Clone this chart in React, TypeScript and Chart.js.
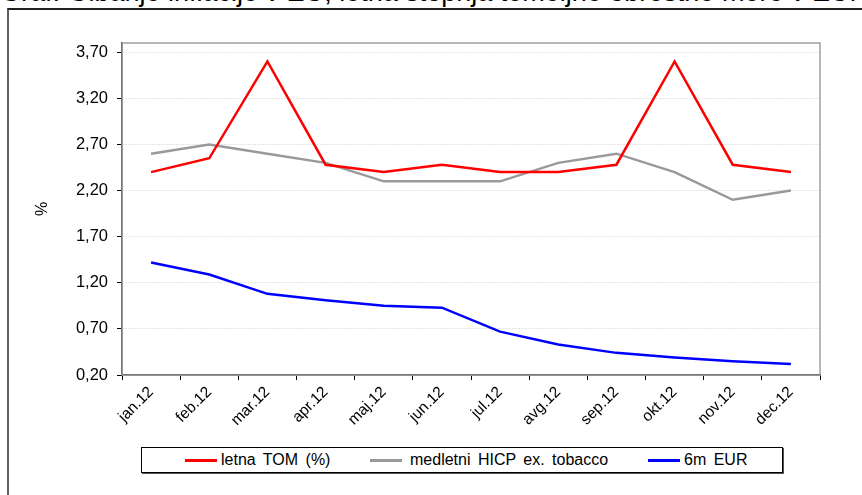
import React, { useEffect, useRef } from "react";
import { Chart, registerables } from "chart.js";

Chart.register(...registerables);

const months = ["jan.12", "feb.12", "mar.12", "apr.12", "maj.12", "jun.12", "jul.12", "avg.12", "sep.12", "okt.12", "nov.12", "dec.12"];
const letnaTom = [2.4, 2.55, 3.6, 2.48, 2.4, 2.48, 2.4, 2.4, 2.48, 3.6, 2.48, 2.4];
const hicpExTobacco = [2.6, 2.7, 2.6, 2.5, 2.3, 2.3, 2.3, 2.5, 2.6, 2.4, 2.1, 2.2];
const eur6m = [1.42, 1.29, 1.08, 1.01, 0.95, 0.93, 0.67, 0.53, 0.44, 0.39, 0.35, 0.32];
const yTicks = [0.2, 0.7, 1.2, 1.7, 2.2, 2.7, 3.2, 3.7];

const seriesNames = ["letna TOM (%)", "medletni HICP ex. tobacco", "6m EUR"];
const seriesColors = ["#ff0000", "#999999", "#0000ff"];

const FONT = "'Liberation Sans', Arial, sans-serif";

// grey frame around the plot area, drawn behind the axes
const plotFrame = {
  id: "plotFrame",
  beforeDatasetsDraw(chart: any) {
    const { ctx, chartArea } = chart;
    ctx.save();
    ctx.strokeStyle = "#a0a0a0";
    ctx.lineWidth = 1.5;
    ctx.strokeRect(chartArea.left, chartArea.top, chartArea.right - chartArea.left, chartArea.bottom - chartArea.top);
    ctx.restore();
  },
};

export default function App() {
  const canvasRef = useRef<HTMLCanvasElement | null>(null);

  useEffect(() => {
    if (!canvasRef.current) return;
    const data = [letnaTom, hicpExTobacco, eur6m];
    const chart = new Chart(canvasRef.current, {
      type: "line",
      data: {
        labels: months,
        datasets: data.map((d, i) => ({
          label: seriesNames[i],
          data: d,
          borderColor: seriesColors[i],
          backgroundColor: seriesColors[i],
          borderWidth: 2.5,
          pointRadius: 0,
          tension: 0,
          fill: false,
        })),
      },
      options: {
        animation: false,
        responsive: false,
        maintainAspectRatio: false,
        layout: { padding: { top: 33, right: 40, left: 0, bottom: 0 } },
        plugins: { legend: { display: false }, tooltip: { enabled: false } },
        scales: {
          x: {
            type: "category",
            offset: true,
            grid: {
              offset: true,
              drawOnChartArea: false,
              drawTicks: true,
              tickLength: 5,
              color: "#000",
              tickColor: "#000",
            },
            border: { color: "#000", width: 1.5 },
            ticks: {
              autoSkip: false,
              maxRotation: 45,
              minRotation: 45,
              padding: 3,
              color: "#000",
              font: { family: FONT, size: 15.5 },
            },
            afterFit: (s: any) => {
              s.height = 65;
            },
          },
          y: {
            min: 0.2,
            max: 3.8,
            afterBuildTicks: (s: any) => {
              s.ticks = yTicks.map((v) => ({ value: v }));
            },
            grid: {
              color: "#c8c8c8",
              tickColor: "#000",
              tickLength: 5,
              lineWidth: 1,
            },
            border: { color: "#000", width: 1.5, dash: [1, 2] },
            ticks: {
              padding: 9,
              color: "#000",
              font: { family: FONT, size: 16.5 },
              callback: (v: any) => Number(v).toFixed(2).replace(".", ","),
            },
            title: {
              display: true,
              text: "%",
              color: "#000",
              font: { family: FONT, size: 16 },
              padding: { top: 23, bottom: 0 },
            },
            afterFit: (s: any) => {
              s.width = 112;
            },
          },
        },
      },
      plugins: [plotFrame],
    });
    return () => chart.destroy();
  }, []);

  const legendOffsets = [43, 228, 506];

  return (
    <div style={{ position: "fixed", left: 0, top: 0, width: 862, height: 495, overflow: "hidden", background: "#fff", fontFamily: FONT }}>
      <div
        style={{
          position: "absolute",
          left: 0,
          top: -21,
          fontSize: 27,
          lineHeight: "27px",
          whiteSpace: "nowrap",
          color: "#000",
        }}
      >
        Graf: Gibanje inflacije v EU, letna stopnja temeljne obrestne mere v EUR
      </div>
      <div
        style={{
          position: "absolute",
          left: 7,
          top: 8,
          width: 1000,
          height: 1000,
          borderLeft: "2px solid #5f5f5f",
          borderTop: "2px solid #202020",
        }}
      />
      <canvas ref={canvasRef} width={850} height={430} style={{ position: "absolute", left: 10, top: 10 }} />
      <div
        style={{
          position: "absolute",
          left: 141,
          top: 447,
          width: 640,
          height: 24,
          border: "1px solid #000",
          boxShadow: "1px 1px 0 #555",
          background: "#fff",
        }}
      >
        {seriesNames.map((name, i) => (
          <div
            key={name}
            style={{
              position: "absolute",
              left: legendOffsets[i],
              top: 0,
              height: 24,
              display: "flex",
              alignItems: "center",
              whiteSpace: "nowrap",
              fontSize: 16,
              color: "#000",
            }}
          >
            <span style={{ display: "inline-block", width: 32, height: 3, background: seriesColors[i], marginRight: i === 1 ? 8 : 4 }} />
            <span style={{ wordSpacing: 3 }}>{name}</span>
          </div>
        ))}
      </div>
    </div>
  );
}
